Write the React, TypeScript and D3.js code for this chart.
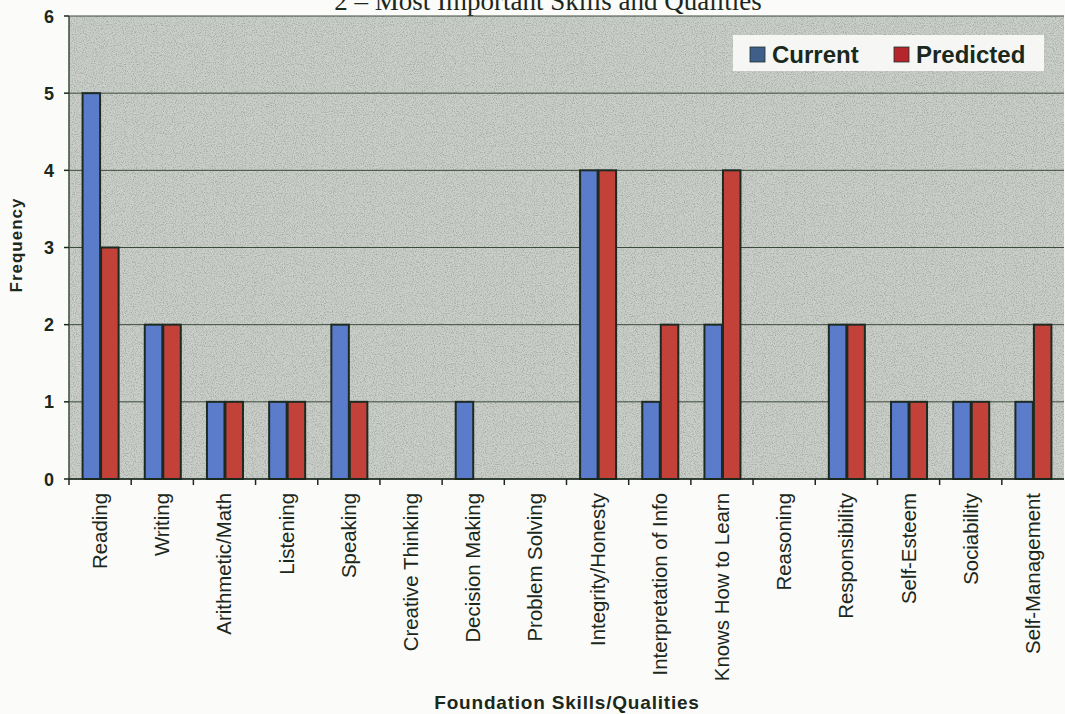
import React from "react";
import * as d3 from "d3";

const categories = [
  "Reading", "Writing", "Arithmetic/Math", "Listening", "Speaking",
  "Creative Thinking", "Decision Making", "Problem Solving", "Integrity/Honesty",
  "Interpretation of Info", "Knows How to Learn", "Reasoning", "Responsibility",
  "Self-Esteem", "Sociability", "Self-Management",
];
const currentValues = [5, 2, 1, 1, 2, 0, 1, 0, 4, 1, 2, 0, 2, 1, 1, 1];
const predictedValues = [3, 2, 1, 1, 1, 0, 0, 0, 4, 2, 4, 0, 2, 1, 1, 2];
const seriesNames = ["Current", "Predicted"];
const yTicks = [0, 1, 2, 3, 4, 5, 6];

const W = 1065;
const H = 714;
const plot = { left: 69, right: 1064, top: 16, bottom: 479 };
const colors = { Current: "#5b7bcb", Predicted: "#c2423a" };
const swatch = { Current: "#3f5f8a", Predicted: "#b5252c" };
const ink = "#1b281c";
const font = "'Liberation Sans', Arial, sans-serif";

export default function App() {
  const x = d3.scaleBand<string>().domain(categories).range([plot.left, plot.right]);
  const x1 = d3.scaleBand<string>().domain(seriesNames).range([0, x.bandwidth()]).paddingOuter(0.68);
  const y = d3.scaleLinear().domain([0, 6]).range([plot.bottom, plot.top]);

  const rows = categories.map((c, i) => ({ c, vals: [currentValues[i], predictedValues[i]] }));

  return (
    <svg width={W} height={H} style={{ position: "absolute", left: 0, top: 0, background: "#fbfbf9" }}>
      <defs>
        <filter id="grain" x="0" y="0" width="100%" height="100%">
          <feTurbulence type="fractalNoise" baseFrequency="0.9" numOctaves="2" seed="3" result="n" />
          <feColorMatrix in="n" type="matrix"
            values="0 0 0 0 0.2  0 0 0 0 0.22  0 0 0 0 0.2  0 0 0 -2.6 1.45" />
        </filter>
      </defs>

      {/* title, running off the top edge of the page */}
      <text x={548} y={10} textAnchor="middle" fontFamily="'Liberation Serif', 'Times New Roman', serif"
        fontSize={27} fill={ink}>2 – Most Important Skills and Qualities</text>

      {/* plot background */}
      <rect x={plot.left} y={plot.top} width={plot.right - plot.left} height={plot.bottom - plot.top} fill="#cacfc9" />
      <rect x={plot.left} y={plot.top} width={plot.right - plot.left} height={plot.bottom - plot.top}
        filter="url(#grain)" opacity={0.5} />

      {/* grid lines */}
      {yTicks.map((t) => (
        <line key={t} x1={plot.left} x2={plot.right} y1={y(t)} y2={y(t)} stroke="#3c4a3c" strokeWidth={1} />
      ))}

      {/* bars */}
      {rows.map((r) => (
        <g key={r.c} transform={`translate(${x(r.c)},0)`}>
          {r.vals.map((v, j) =>
            v > 0 ? (
              <rect key={j} x={x1(seriesNames[j])! + 1} y={y(v)} width={x1.bandwidth() - 1}
                height={y(0) - y(v)} fill={colors[seriesNames[j] as keyof typeof colors]}
                stroke="#1d2a22" strokeWidth={2} />
            ) : null
          )}
        </g>
      ))}

      {/* axes */}
      <line x1={plot.left} x2={plot.left} y1={plot.top} y2={plot.bottom} stroke="#3c4a3c" strokeWidth={1.5} />
      <line x1={plot.left} x2={plot.right} y1={plot.bottom} y2={plot.bottom} stroke={ink} strokeWidth={1.5} />
      {yTicks.map((t) => (
        <g key={t}>
          <line x1={plot.left - 5} x2={plot.left} y1={y(t)} y2={y(t)} stroke={ink} strokeWidth={1.5} />
          <text x={54} y={y(t) + 6.5} textAnchor="end" fontFamily={font} fontWeight="bold"
            fontSize={18} fill={ink}>{t}</text>
        </g>
      ))}
      {categories.map((c, i) => (
        <line key={c} x1={plot.left + i * x.bandwidth()} x2={plot.left + i * x.bandwidth()}
          y1={plot.bottom} y2={plot.bottom + 6} stroke={ink} strokeWidth={1.5} />
      ))}
      {categories.map((c) => (
        <text key={c} transform={`translate(${x(c)! + x.bandwidth() / 2 + 7},${plot.bottom + 14}) rotate(-90)`}
          textAnchor="end" fontFamily={font} fontSize={20.4} fill={ink}>{c}</text>
      ))}

      {/* axis titles */}
      <text transform={`translate(22,245) rotate(-90)`} textAnchor="middle"
        fontFamily={font} fontWeight="bold" fontSize={17} letterSpacing={1} fill={ink}>Frequency</text>
      <text x={567} y={709} textAnchor="middle" fontFamily={font} fontWeight="bold" fontSize={19}
        letterSpacing={0.8} fill={ink}>Foundation Skills/Qualities</text>

      {/* legend */}
      <g>
        <rect x={733} y={35} width={311} height={36} fill="#f6f7f5" />
        {seriesNames.map((s, i) => (
          <g key={s} transform={`translate(${750 + i * 144},0)`}>
            <rect x={0} y={47} width={15} height={15} fill={swatch[s as keyof typeof swatch]}
              stroke="#22302a" strokeWidth={0.8} />
            <text x={22} y={63} fontFamily={font} fontWeight="bold" fontSize={24} fill={ink}>{s}</text>
          </g>
        ))}
      </g>
    </svg>
  );
}
